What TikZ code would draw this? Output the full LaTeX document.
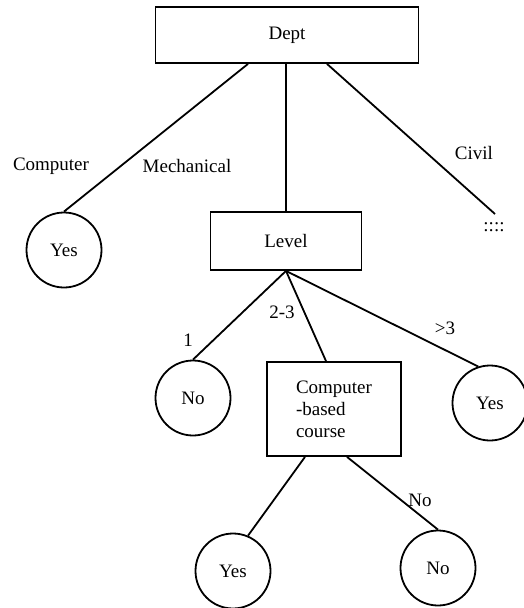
\documentclass[tikz,border=0pt]{standalone}
\usepackage{fontspec}
\setmainfont{Liberation Serif}

\begin{document}
\begin{tikzpicture}[x=1pt, y=-1pt, line width=1.8pt,
    every node/.style={font=\fontsize{19}{22}\selectfont},
    test/.style={draw, rectangle, inner sep=0pt},
    leaf/.style={draw, circle, minimum size=75pt, inner sep=0pt}]
  \useasboundingbox (0,0) rectangle (524,608);

  % attribute boxes
  \node[test, minimum width=263pt, minimum height=56pt] (dept) at (287,35) {Dept};
  \node[test, minimum width=151pt, minimum height=58pt] (level) at (286,241) {Level};
  \node[test, minimum width=134pt, minimum height=94pt, align=left] (cbc) at (334,409)
       {Computer\\-based\\course};

  % leaves
  \node[leaf] (yesA) at (64,250) {Yes};
  \node[leaf] (noA) at (193,398) {No};
  \node[leaf] (yesB) at (490,403) {Yes};
  \node[leaf] (yesC) at (233,571) {Yes};
  \node[leaf] (noC) at (438,568) {No};

  % civil branch is left open
  \coordinate (civ) at (495,214);
  \node (more) at (494,227) {::::};

  % branches
  \draw ([xshift=-39pt]dept.south) -- (yesA.north);
  \draw (level.north |- dept.south) -- (level.north);
  \draw ([xshift=40pt]dept.south) -- (civ);
  \draw (level.south) -- (noA.north);
  \draw (level.south) -- ([xshift=-8pt]cbc.north);
  \draw (level.south) -- (yesB.108);
  \draw ([xshift=-29pt]cbc.south) -- (yesC.67);
  \draw ([xshift=13pt]cbc.south) -- (noC.north);

  % branch values
  \node (lComp) at (51,166) {Computer};
  \node (lMech) at (187,166) {Mechanical};
  \node (lCivil) at (474,153) {Civil};
  \node (lOne) at (188,340) {1};
  \node (lMid) at (282,312) {2-3};
  \node (lHigh) at (445,328) {>3};
  \node (lNo) at (420,500) {No};
\end{tikzpicture}
\end{document}
